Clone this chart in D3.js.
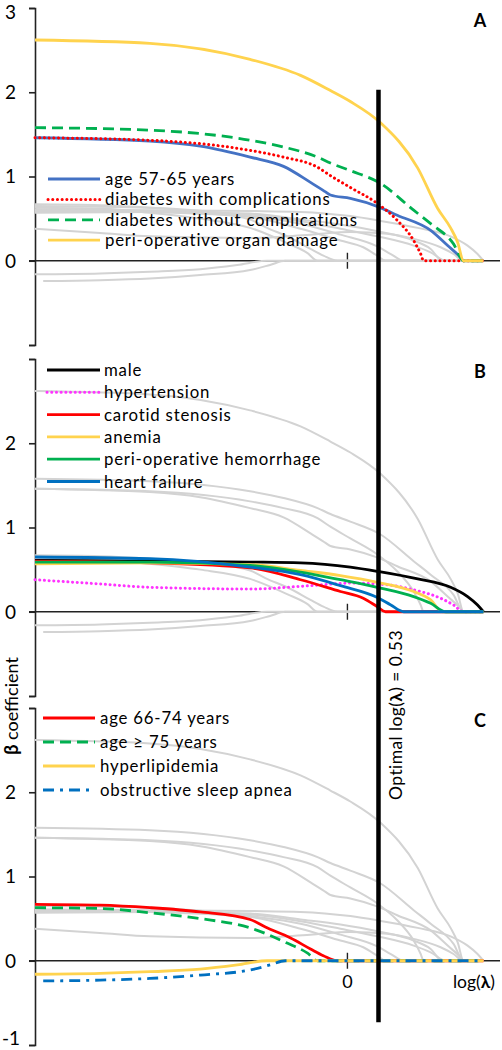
<!DOCTYPE html>
<html><head><meta charset="utf-8">
<script src="https://cdn.jsdelivr.net/npm/d3@7"></script>
<style>
body{margin:0;background:#fff}
svg{display:block}
text{font-family:Lato,"Open Sans",sans-serif;fill:#000}
</style>
</head><body>
<svg id="chart" width="502" height="1050"></svg>
<script>
// ---------- data (log(lambda), beta) ----------
const optimalLogLambda = 0.53;
const xTickValues = [0];
const xTickLabels = ["0"];
const yTickValues = [3, 2, 1, 0, -1];
const yTickLabelsA = ["3", "2", "1", "0", ""];
const yTickLabelsB = ["", "2", "1", "0", ""];
const yTickLabelsC = ["", "2", "1", "0", "-1"];
const panelLetters = ["A", "B", "C"];

// Panel A predictors
const age5765 = [[-5.33,1.46],[-3.37,1.42],[-2.51,1.36],[-1.66,1.23],[-1.09,1.12],[-0.63,0.93],[-0.38,0.82],[-0.29,0.78],[0.05,0.74],[0.53,0.64],[0.85,0.54],[1.42,0.36],[1.71,0.18],[1.93,0.04],[1.98,0],[2.32,0]];
const diabetesWith = [[-5.33,1.46],[-3.37,1.43],[-1.66,1.31],[-1.09,1.23],[-0.51,1.11],[-0.29,1.01],[0.05,0.87],[0.51,0.68],[0.85,0.48],[1.13,0.24],[1.25,0.08],[1.30,0],[2.32,0]];
const diabetesWithout = [[-5.33,1.58],[-3.37,1.55],[-1.66,1.43],[-1.09,1.35],[-0.51,1.23],[-0.29,1.16],[0.05,1.07],[0.56,0.92],[1.13,0.60],[1.42,0.44],[1.81,0.20],[1.98,0],[2.32,0]];
const organDamage = [[-5.33,2.62],[-3.37,2.58],[-1.66,2.39],[-0.80,2.20],[-0.29,2.02],[0.05,1.89],[0.56,1.64],[1.20,1.10],[1.54,0.62],[1.76,0.39],[1.88,0.22],[1.98,0],[2.32,0]];

// Panel B predictors
const male = [[-5.33,0.61],[-3.37,0.60],[-1.66,0.59],[-0.80,0.58],[0.05,0.53],[0.51,0.48],[1.20,0.39],[1.76,0.29],[2.05,0.18],[2.22,0.08],[2.32,0]];
const hypertension = [[-5.33,0.38],[-4.22,0.33],[-3.37,0.29],[-1.66,0.27],[-0.63,0.31],[0.05,0.34],[0.68,0.32],[1.13,0.26],[1.59,0.16],[1.81,0.08],[1.98,0],[2.32,0]];
const carotidStenosis = [[-5.33,0.60],[-3.37,0.58],[-1.66,0.52],[-0.80,0.38],[-0.12,0.24],[0.27,0.16],[0.51,0.06],[0.65,0],[2.32,0]];
const anemia = [[-5.33,0.57],[-3.37,0.58],[-1.66,0.56],[-0.80,0.49],[-0.12,0.43],[0.51,0.35],[1.13,0.24],[1.42,0.14],[1.62,0],[2.32,0]];
const hemorrhage = [[-5.33,0.59],[-3.37,0.59],[-1.66,0.55],[-0.80,0.47],[-0.12,0.38],[0.51,0.29],[1.13,0.18],[1.42,0.10],[1.68,0],[2.32,0]];
const heartFailure = [[-5.33,0.65],[-3.37,0.63],[-1.66,0.53],[-0.80,0.44],[-0.12,0.31],[0.51,0.17],[0.74,0.08],[0.96,0],[2.32,0]];

// Panel C predictors
const age6674 = [[-5.33,0.67],[-4.22,0.66],[-3.37,0.63],[-2.51,0.58],[-1.66,0.49],[-1.40,0.40],[-0.97,0.27],[-0.63,0.14],[-0.41,0.06],[-0.17,0],[2.32,0]];
const age75 = [[-5.33,0.63],[-4.22,0.62],[-3.37,0.57],[-2.51,0.50],[-1.66,0.39],[-1.03,0.21],[-0.68,0.09],[-0.51,0],[2.32,0]];
const hyperlipidemia = [[-5.33,-0.16],[-4.22,-0.15],[-3.37,-0.13],[-2.51,-0.10],[-1.88,-0.05],[-1.37,0],[2.32,0]];
const sleepApnea = [[-5.19,-0.24],[-4.22,-0.23],[-3.37,-0.21],[-2.51,-0.17],[-1.66,-0.11],[-1.32,-0.05],[-1.06,0],[2.32,0]];

const namesA = ["age 57-65 years","diabetes with complications","diabetes without complications","peri-operative organ damage"];
const namesB = ["male","hypertension","carotid stenosis","anemia","peri-operative hemorrhage","heart failure"];
const namesC = ["age 66-74 years","age \u2265 75 years","hyperlipidemia","obstructive sleep apnea"];
const seriesA = [age5765, diabetesWith, diabetesWithout, organDamage];
const seriesB = [male, hypertension, carotidStenosis, anemia, hemorrhage, heartFailure];
const seriesC = [age6674, age75, hyperlipidemia, sleepApnea];

// ---------- styles / layout ----------
const YELLOW = "#FFD34E";
const stylesA = [
  {color:"#4472C4", dash:null},
  {color:"#FF0000", dash:"0.1,4.6", cap:"round", width:3},
  {color:"#00B050", dash:"11,6"},
  {color:YELLOW, dash:null}
];
const stylesB = [
  {color:"#000000", dash:null},
  {color:"#FF33FF", dash:"0.1,4.6", cap:"round", width:3},
  {color:"#FF0000", dash:null},
  {color:YELLOW, dash:null},
  {color:"#00B050", dash:null},
  {color:"#0070C0", dash:null}
];
const stylesC = [
  {color:"#FF0000", dash:null},
  {color:"#00B050", dash:"11,6"},
  {color:YELLOW, dash:null},
  {color:"#0070C0", dash:"11,6,3,6"}
];

const panels = [
  {top:8,   names:namesA, series:seriesA, styles:stylesA, labels:yTickLabelsA, leg:{x1:48,x2:100,tx:105,y0:179,dy:20.4}},
  {top:359, names:namesB, series:seriesB, styles:stylesB, labels:yTickLabelsB, leg:{x1:47,x2:100,tx:104,y0:370,dy:22.3}},
  {top:708, names:namesC, series:seriesC, styles:stylesC, labels:yTickLabelsC, leg:{x1:43,x2:95,tx:100,y0:718,dy:24}}
];
const panelH = 337;
const allSeries = [...seriesA, ...seriesB, ...seriesC];

const svg = d3.select("#chart");
const x = d3.scaleLinear().domain([-5.33, 2.33]).range([35, 484]);

panels.forEach((p, pi) => {
  const y = d3.scaleLinear().domain([-1, 3]).range([p.top + panelH, p.top]);
  p.y = y;
  const g = svg.append("g");

  // y axis
  const yAxis = d3.axisLeft(y).tickValues(yTickValues).tickSize(6)
    .tickFormat((d, i) => p.labels[i]);
  const ga = g.append("g").attr("transform", "translate(35,0)").call(yAxis);
  ga.select(".domain").attr("stroke", "#222").attr("stroke-width", 1.6);
  ga.selectAll(".tick line").attr("stroke", "#222").attr("stroke-width", 1.6);
  ga.selectAll(".tick text").attr("x", d => d === -1 ? -33 : -19).attr("font-size", 19)
    .attr("text-anchor", d => d === -1 ? "start" : "end")
    .style("font-family", 'Lato,"Open Sans",sans-serif').attr("fill", "#000")
    .attr("dy", d => d === 3 ? "0.55em" : (d === -1 ? "-0.02em" : "0.34em"));

  // zero line (x axis)
  g.append("line").attr("x1", 29).attr("x2", 500)
    .attr("y1", y(0)).attr("y2", y(0)).attr("stroke", "#222").attr("stroke-width", 1.6);
  // x tick at 0
  xTickValues.forEach((v, i) => {
    g.append("line").attr("x1", x(v)).attr("x2", x(v))
      .attr("y1", y(0) - 8).attr("y2", y(0) + 8).attr("stroke", "#222").attr("stroke-width", 1.4);
    if (pi === 2) {
      g.append("text").attr("x", x(v)).attr("y", y(0) + 27).attr("text-anchor", "middle")
        .attr("font-size", 18).text(xTickLabels[i]);
    }
  });

  const line = d3.line().x(d => x(d[0])).y(d => y(d[1])).curve(d3.curveMonotoneX);

  // grey paths of the other predictors
  allSeries.filter(s => !p.series.includes(s)).forEach(s => {
    g.append("path").attr("d", line(s)).attr("fill", "none")
      .attr("stroke", "#D3D3D3").attr("stroke-width", 2);
  });
  // coloured paths
  p.series.forEach((s, i) => {
    const st = p.styles[i];
    g.append("path").attr("d", line(s)).attr("fill", "none")
      .attr("stroke", st.color).attr("stroke-width", st.width || 2.8)
      .attr("stroke-dasharray", st.dash)
      .attr("stroke-linecap", st.cap || "butt");
  });

  // legend
  p.names.forEach((n, i) => {
    const st = p.styles[i];
    const ly = p.leg.y0 + i * p.leg.dy;
    g.append("line").attr("x1", p.leg.x1).attr("x2", p.leg.x2).attr("y1", ly).attr("y2", ly)
      .attr("stroke", st.color).attr("stroke-width", st.width || 2.8)
      .attr("stroke-dasharray", st.dash).attr("stroke-linecap", st.cap || "butt");
    g.append("text").attr("x", p.leg.tx).attr("y", ly).attr("dy", "0.36em")
      .attr("font-size", 16.8).attr("letter-spacing", 0.8).text(n);
  });

  // panel letter
  g.append("text").attr("x", 480).attr("y", p.top + 19).attr("text-anchor", "middle")
    .attr("font-size", 18).attr("font-weight", "bold").text(panelLetters[pi]);
});

// optimal lambda line
const yA = panels[0].y, yC = panels[2].y;
svg.append("line").attr("x1", x(optimalLogLambda)).attr("x2", x(optimalLogLambda))
  .attr("y1", yA(2.03)).attr("y2", yC(-0.73)).attr("stroke", "#000").attr("stroke-width", 4.5);

const opt = svg.append("text").attr("transform", `translate(${x(optimalLogLambda) + 24},715) rotate(-90)`)
  .attr("text-anchor", "middle").attr("font-size", 17.5).attr("letter-spacing", 0.4);
opt.append("tspan").text("Optimal log(");
opt.append("tspan").attr("font-weight", "bold").text("\u03BB");
opt.append("tspan").text(") = " + optimalLogLambda.toFixed(2));

// x axis title
const xt = svg.append("text").attr("x", 474).attr("y", yC(0) + 27).attr("text-anchor", "middle").attr("font-size", 17.5);
xt.append("tspan").text("log(");
xt.append("tspan").attr("font-weight", "bold").text("\u03BB");
xt.append("tspan").text(")");

// y axis title
const yt = svg.append("text").attr("transform", "translate(18,706) rotate(-90)")
  .attr("text-anchor", "middle").attr("font-size", 18);
yt.append("tspan").attr("font-weight", "bold").text("\u03B2");
yt.append("tspan").text(" coefficient");
</script>
</body></html>
